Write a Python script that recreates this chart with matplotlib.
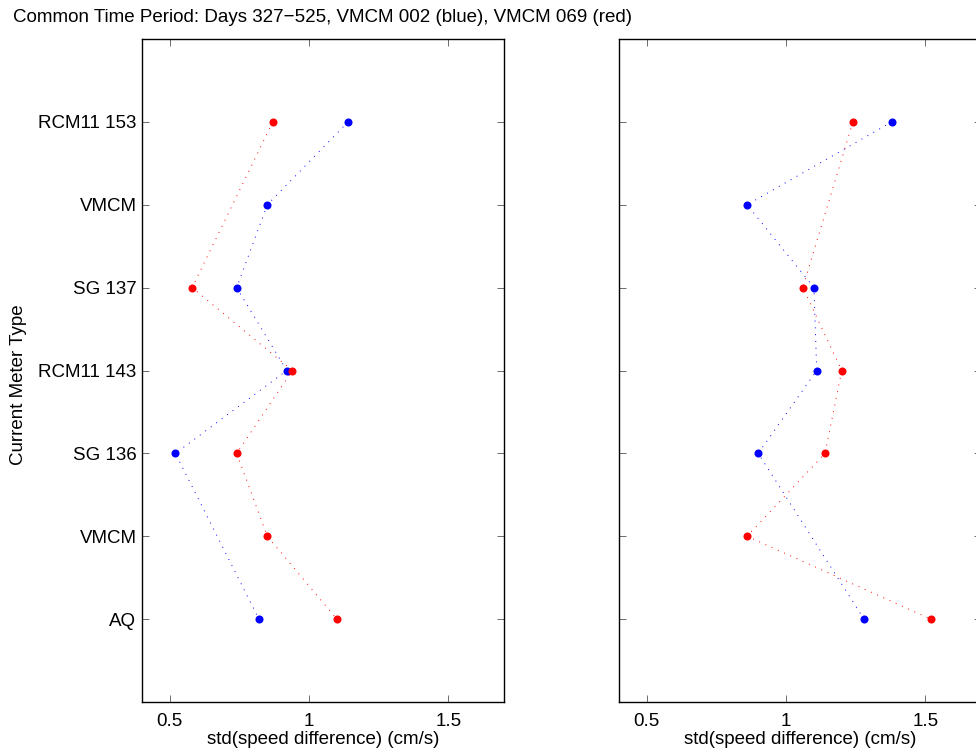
import numpy as np
import matplotlib
matplotlib.use('Agg')
import matplotlib.pyplot as plt

plt.rcParams['font.family'] = ['Liberation Sans', 'DejaVu Sans']

#%% data
meter_labels = ['AQ', 'VMCM', 'SG 136', 'RCM11 143', 'SG 137', 'VMCM', 'RCM11 153']
meter_pos = [1, 2, 3, 4, 5, 6, 7]

# blue = VMCM 002, red = VMCM 069 ; each misses its own VMCM row
blue_y = [7, 6, 5, 4, 3, 1]
red_y = [7, 5, 4, 3, 2, 1]

left_blue = [1.14, 0.85, 0.74, 0.92, 0.52, 0.82]
left_red = [0.87, 0.58, 0.94, 0.74, 0.85, 1.10]

right_blue = [1.38, 0.86, 1.10, 1.11, 0.90, 1.28]
right_red = [1.24, 1.06, 1.20, 1.14, 0.86, 1.52]

xticks = [0.5, 1, 1.5]
xticklabels = ['0.5', '1', '1.5']

#%% figure
fig = plt.figure(figsize=(9.76, 7.55), dpi=100)
ax1 = fig.add_axes([142/976, 53/755, 362/976, 663/755])
ax2 = fig.add_axes([619/976, 53/755, 362/976, 663/755])

fs = 13.5
for ax, b, r in [(ax1, left_blue, left_red), (ax2, right_blue, right_red)]:
    ax.plot(b, blue_y, color='b', lw=0.7, ls=(0, (1, 6)))
    ax.plot(r, red_y, color='r', lw=0.7, ls=(0, (1, 6)))
    ax.plot(b, blue_y, 'o', color='b', ms=5.8, mec='none')
    ax.plot(r, red_y, 'o', color='r', ms=5.8, mec='none')
    ax.set_xlim(0.4, 1.7)
    ax.set_ylim(0, 8)
    ax.set_xticks(xticks)
    ax.set_xticklabels(xticklabels, fontsize=fs)
    ax.set_yticks(meter_pos)
    ax.tick_params(direction='in', top=True, right=True, length=5, width=0.6,
                   color='#555555', pad=4)
    ax.tick_params(axis='x', pad=8)
    for s in ax.spines.values():
        s.set_linewidth(1.0)
    ax.set_xlabel('std(speed difference) (cm/s)', fontsize=fs, labelpad=1)

ax1.set_yticklabels(meter_labels, fontsize=fs)
ax2.set_yticklabels([])

fig.text(19/976, 370/755, 'Current Meter Type', fontsize=fs, rotation=90,
         ha='center', va='center')
fig.text(13/976, 1 - 18/755, 'Common Time Period: Days 327\u2212525, VMCM 002 (blue), VMCM 069 (red)',
         fontsize=fs, va='center', ha='left')

fig.savefig('out.png', dpi=100)
